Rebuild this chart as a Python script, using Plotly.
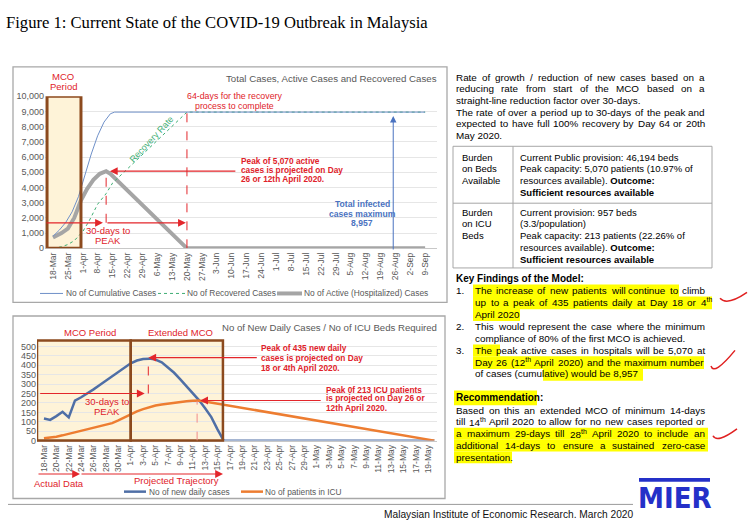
import re
import plotly.graph_objects as go

W, H = 749, 530
def px(x): return x / W
def py(y): return 1 - y / H

# ---------------- DATA: top chart ----------------
cum_dates = ["2020-03-18", "2020-03-21", "2020-03-24", "2020-03-27", "2020-03-30", "2020-04-02",
             "2020-04-05", "2020-04-08", "2020-04-11", "2020-04-14", "2020-04-16", "2020-09-09"]
cum_vals = [790, 1200, 1700, 2400, 3400, 4800, 6200, 7400, 8300, 8850, 8957, 8957]

rec_dates = ["2020-03-18", "2020-03-22", "2020-03-25", "2020-03-28", "2020-04-01", "2020-04-04",
             "2020-04-08", "2020-04-12", "2020-04-15", "2020-05-20", "2020-09-09"]
rec_vals = [0, 100, 250, 500, 1100, 1800, 2900, 3600, 4290, 8957, 8957]

act_dates = ["2020-03-18", "2020-03-22", "2020-03-25", "2020-03-28", "2020-03-31", "2020-04-03",
             "2020-04-06", "2020-04-09", "2020-04-12", "2020-04-14", "2020-05-20", "2020-09-09"]
act_vals = [710, 1000, 1300, 2000, 3100, 3900, 4500, 4900, 5070, 4900, 0, 0]

top_tick_dates = ["2020-03-18", "2020-03-25", "2020-04-01", "2020-04-08", "2020-04-15", "2020-04-22",
                  "2020-04-29", "2020-05-06", "2020-05-13", "2020-05-20", "2020-05-27", "2020-06-03",
                  "2020-06-10", "2020-06-17", "2020-06-24", "2020-07-01", "2020-07-08", "2020-07-15",
                  "2020-07-22", "2020-07-29", "2020-08-05", "2020-08-12", "2020-08-19", "2020-08-26",
                  "2020-09-02", "2020-09-09"]
top_tick_text = ["18-Mar", "25-Mar", "1-Apr", "8-Apr", "15-Apr", "22-Apr", "29-Apr", "6-May", "13-May",
                 "20-May", "27-May", "3-Jun", "10-Jun", "17-Jun", "24-Jun", "1-Jul", "8-Jul", "15-Jul",
                 "22-Jul", "29-Jul", "5-Aug", "12-Aug", "19-Aug", "26-Aug", "2-Sep", "9-Sep"]

# ---------------- DATA: bottom chart ----------------
new_dates = ["2020-03-18", "2020-03-19", "2020-03-20", "2020-03-21", "2020-03-22", "2020-03-23",
             "2020-03-24", "2020-03-25", "2020-03-26", "2020-03-27", "2020-03-28", "2020-03-29",
             "2020-03-30", "2020-03-31", "2020-04-01", "2020-04-02", "2020-04-03", "2020-04-04",
             "2020-04-05", "2020-04-06", "2020-04-07", "2020-04-08", "2020-04-09", "2020-04-10",
             "2020-04-11", "2020-04-12", "2020-04-13", "2020-04-14", "2020-04-15", "2020-04-16",
             "2020-05-20"]
new_vals = [117, 110, 130, 153, 123, 212, 230, 250, 272, 295, 318, 343, 368, 390, 410, 425, 433, 435,
            430, 415, 390, 360, 325, 290, 255, 215, 172, 125, 60, 0, 0]

icu_dates = ["2020-03-18", "2020-03-19", "2020-03-20", "2020-03-21", "2020-03-22", "2020-03-23",
             "2020-03-24", "2020-03-25", "2020-03-26", "2020-03-27", "2020-03-28", "2020-03-29",
             "2020-03-30", "2020-03-31", "2020-04-01", "2020-04-02", "2020-04-03", "2020-04-04",
             "2020-04-05", "2020-04-06", "2020-04-07", "2020-04-08", "2020-04-09", "2020-04-10",
             "2020-04-11", "2020-04-12", "2020-05-20"]
icu_vals = [12, 15, 21, 28, 36, 45, 53, 60, 67, 74, 82, 93, 107, 123, 140, 155, 167, 178, 186, 192,
            197, 202, 206, 209, 211, 213, 0]

bot_tick_dates = ["2020-03-18", "2020-03-20", "2020-03-22", "2020-03-24", "2020-03-26", "2020-03-28",
                  "2020-03-30", "2020-04-01", "2020-04-03", "2020-04-05", "2020-04-07", "2020-04-09",
                  "2020-04-11", "2020-04-13", "2020-04-15", "2020-04-17", "2020-04-19", "2020-04-21",
                  "2020-04-23", "2020-04-25", "2020-04-27", "2020-04-29", "2020-05-01", "2020-05-03",
                  "2020-05-05", "2020-05-07", "2020-05-09", "2020-05-11", "2020-05-13", "2020-05-15",
                  "2020-05-17", "2020-05-19"]
bot_tick_text = ["18-Mar", "20-Mar", "22-Mar", "24-Mar", "26-Mar", "28-Mar", "30-Mar", "1-Apr", "3-Apr",
                 "5-Apr", "7-Apr", "9-Apr", "11-Apr", "13-Apr", "15-Apr", "17-Apr", "19-Apr", "21-Apr",
                 "23-Apr", "25-Apr", "27-Apr", "29-Apr", "1-May", "3-May", "5-May", "7-May", "9-May",
                 "11-May", "13-May", "15-May", "17-May", "19-May"]

# ---------------- styles ----------------
RED = "#E3262B"
RED_T = "#E0222A"
BROWN = "#8C4A1E"
CREAM = "#FEF3D8"
GRAY_T = "#595959"
BLUE_T = "#4A72C0"
C_CUM, C_REC, C_ACT = "#6F90C8", "#3FAE74", "#A5A5A5"
C_NEW, C_ICU = "#4F6FA6", "#ED7D31"
FONT = "Liberation Sans, Arial, sans-serif"

fig = go.Figure()

# top traces
fig.add_trace(go.Scatter(x=act_dates, y=act_vals, mode="lines", name="No of Active (Hospitalized) Cases",
                         line=dict(color=C_ACT, width=4), xaxis="x", yaxis="y", showlegend=False))
fig.add_trace(go.Scatter(x=rec_dates, y=rec_vals, mode="lines", name="No of Recovered Cases",
                         line=dict(color=C_REC, width=1, dash="dot"), xaxis="x", yaxis="y", showlegend=False))
fig.add_trace(go.Scatter(x=cum_dates, y=cum_vals, mode="lines", name="No of Cumulative Cases",
                         line=dict(color=C_CUM, width=1), xaxis="x", yaxis="y", showlegend=False))
# bottom traces
fig.add_trace(go.Scatter(x=new_dates, y=new_vals, mode="lines", name="No of new daily cases",
                         line=dict(color=C_NEW, width=2.5), xaxis="x2", yaxis="y2", showlegend=False))
fig.add_trace(go.Scatter(x=icu_dates, y=icu_vals, mode="lines", name="No of patients in ICU",
                         line=dict(color=C_ICU, width=2.5), xaxis="x2", yaxis="y2", showlegend=False))

axis_common = dict(showgrid=False, showline=True, linecolor="#C8C8C8", zeroline=False, ticks="",
                   tickangle=-90, tickfont=dict(size=8.5, color=GRAY_T))
fig.update_layout(
    width=W, height=H, margin=dict(l=0, r=0, t=0, b=0),
    paper_bgcolor="white", plot_bgcolor="white", showlegend=False,
    font=dict(family=FONT, size=10, color="#000000"),
    xaxis=dict(domain=[px(45), px(437)], anchor="y", type="date",
               range=["2020-03-14 06:00", "2020-09-14 14:00"],
               tickmode="array", tickvals=top_tick_dates, ticktext=top_tick_text, **axis_common),
    yaxis=dict(domain=[py(248), py(93)], anchor="x", range=[0, 10000], dtick=1000, tickformat=",",
               showgrid=True, gridcolor="#E6E6E6", zeroline=False, showline=False,
               tickfont=dict(size=9, color=GRAY_T)),
    xaxis2=dict(domain=[px(37), px(437)], anchor="y2", type="date",
                range=["2020-03-16 21:00", "2020-05-20 10:00"],
                tickmode="array", tickvals=bot_tick_dates, ticktext=bot_tick_text, **axis_common),
    yaxis2=dict(domain=[py(444), py(342)], anchor="x2", range=[0, 531], dtick=50,
                showgrid=True, gridcolor="#E6E6E6", zeroline=False, showline=False,
                tickfont=dict(size=9, color=GRAY_T)),
)

shapes = []
def prect(x0, y0, x1, y1, line="#A6A6A6", width=1.2, fill="rgba(0,0,0,0)", layer="above"):
    shapes.append(dict(type="rect", xref="paper", yref="paper", x0=px(x0), x1=px(x1), y0=py(y1), y1=py(y0),
                       line=dict(color=line, width=width), fillcolor=fill, layer=layer))
def pline(x0, y0, x1, y1, color="#A6A6A6", width=1, dash="solid"):
    shapes.append(dict(type="line", xref="paper", yref="paper", x0=px(x0), x1=px(x1), y0=py(y0), y1=py(y1),
                       line=dict(color=color, width=width, dash=dash)))
def hl(x0, y0, x1, y1):
    shapes.append(dict(type="rect", xref="paper", yref="paper", x0=px(x0), x1=px(x1), y0=py(y1), y1=py(y0),
                       line=dict(width=0), fillcolor="#FFFF00", layer="below"))

# chart frames
prect(13, 63, 447, 303, line="#A8A8A8", width=1.3)
prect(13, 317, 445, 503, line="#A8A8A8", width=1.3)
pline(8, 509, 633, 509, color="#9A9A9A", width=1)

# MCO boxes
shapes.append(dict(type="rect", xref="x", yref="y", x0="2020-03-15 05:00", x1="2020-03-31 04:00", y0=0, y1=10000,
                   fillcolor=CREAM, line=dict(width=0), layer="between"))
shapes.append(dict(type="rect", xref="x", yref="y", x0="2020-03-15 05:00", x1="2020-03-31 04:00", y0=0, y1=10000,
                   fillcolor="rgba(0,0,0,0)", line=dict(color=BROWN, width=3), layer="above"))
for a, b in [("2020-03-16 21:00", "2020-04-01 00:00"), ("2020-04-01 00:00", "2020-04-15 21:00")]:
    shapes.append(dict(type="rect", xref="x2", yref="y2 domain", x0=a, x1=b, y0=0, y1=1,
                       fillcolor=CREAM, line=dict(width=0), layer="below"))
    shapes.append(dict(type="rect", xref="x2", yref="y2 domain", x0=a, x1=b, y0=0, y1=1,
                       fillcolor="rgba(0,0,0,0)", line=dict(color=BROWN, width=2.5), layer="above"))

# dashed guide lines
shapes.append(dict(type="line", xref="x", yref="y", x0="2020-04-12", x1="2020-04-12", y0=1680, y1=4950,
                   line=dict(color=RED, width=1, dash="dash")))
shapes.append(dict(type="line", xref="x", yref="y", x0="2020-05-20", x1="2020-05-20", y0=0, y1=8957,
                   line=dict(color=RED, width=1, dash="dash")))
shapes.append(dict(type="line", xref="x2", yref="y2", x0="2020-04-03 20:00", x1="2020-04-03 20:00", y0=250, y1=432,
                   line=dict(color=RED, width=1, dash="dash")))
shapes.append(dict(type="line", xref="x2", yref="y2", x0="2020-04-11 17:00", x1="2020-04-11 17:00", y0=0, y1=210,
                   line=dict(color="#F08A8A", width=1, dash="dash")))

# manual legends (line samples)
pline(40, 294, 63, 294, color=C_CUM, width=1)
pline(158, 294, 185, 294, color=C_REC, width=1, dash="dot")
pline(277, 294, 302, 294, color=C_ACT, width=4)
pline(124, 496, 146, 496, color=C_NEW, width=2.5)
pline(241, 496, 263, 496, color=C_ICU, width=2.5)

# table in right panel
prect(453, 144, 712, 268, line="#A6A6A6", width=1)
pline(513, 144, 513, 268)
pline(453, 202, 712, 202)

# highlights
hl(473, 285, 679, 298)
hl(473, 297, 712, 310)
hl(473, 309, 520, 322)
hl(473, 346, 500, 358)
hl(473, 358, 704, 371)
hl(543, 370, 643, 383)
hl(454, 393, 537, 408)
hl(454, 431, 708, 443)
hl(454, 443, 708, 455)
hl(454, 455, 512, 467)

# hand-drawn check marks
def path(pts):
    (x0, y0), (cx, cy), (x1, y1) = pts
    return "M {} {} Q {} {} {} {}".format(px(x0), py(y0), px(cx), py(cy), px(x1), py(y1))
for pts in [[(720, 299), (727, 307), (747, 293)], [(711, 368), (714, 378), (735, 352)],
            [(713, 439), (717, 447), (737, 432)]]:
    shapes.append(dict(type="path", xref="paper", yref="paper", path=path(pts),
                       line=dict(color="#E02020", width=1.5)))

# MIER logo bar
prect(639, 482, 710, 486, line="#2430C8", width=0, fill="#2430C8")

fig.update_layout(shapes=shapes)

# ---------------- annotations ----------------
def T(x, y, s, size=9.5, color="#000000", xanchor="left", bold=False, angle=0, family=None):
    if bold:
        s = "<b>" + s + "</b>"
    f = dict(size=size, color=color)
    if family:
        f["family"] = family
    fig.add_annotation(x=px(x), y=py(y), xref="paper", yref="paper", text=s, showarrow=False,
                       xanchor=xanchor, yanchor="middle", font=f, textangle=angle, borderpad=0,
                       borderwidth=0)

def arrow(x, y, ax, ay, xref, yref, color=RED, width=1.2):
    fig.add_annotation(x=x, y=y, xref=xref, yref=yref, ax=ax, ay=ay, axref="pixel", ayref="pixel", text="",
                       showarrow=True, arrowhead=2, arrowsize=1.3, arrowwidth=width, arrowcolor=color,
                       standoff=0)

# Arial / Liberation Sans advance widths (1/1000 em) for justified text layout
AW = {' ': 278, '!': 278, '%': 889, '(': 333, ')': 333, ',': 278, '-': 333, '.': 278, '/': 278, ':': 278,
      'A': 667, 'B': 667, 'C': 722, 'D': 722, 'E': 667, 'F': 611, 'G': 778, 'H': 722, 'I': 278, 'J': 500,
      'K': 667, 'L': 556, 'M': 833, 'N': 722, 'O': 778, 'P': 667, 'Q': 778, 'R': 722, 'S': 667, 'T': 611,
      'U': 722, 'V': 667, 'W': 944, 'X': 667, 'Y': 667, 'Z': 611,
      'a': 556, 'b': 556, 'c': 500, 'd': 556, 'e': 556, 'f': 278, 'g': 556, 'h': 556, 'i': 222, 'j': 222,
      'k': 500, 'l': 222, 'm': 833, 'n': 556, 'o': 556, 'p': 556, 'q': 556, 'r': 333, 's': 500, 't': 278,
      'u': 556, 'v': 500, 'w': 722, 'x': 500, 'y': 500, 'z': 500}
def tw(s, size):
    tot = 0.0
    for part in re.split(r"(<sup>.*?</sup>)", s):
        if part.startswith("<sup>"):
            tot += 0.7 * sum(AW.get(c, 556) for c in part[5:-6])
        else:
            tot += sum(AW.get(c, 556) for c in part)
    return tot / 1000.0 * size

def J(x0, x1, y, s, size):
    words = s.split(" ")
    ws = [tw(w, size) for w in words]
    gap = (x1 - x0 - sum(ws)) / (len(words) - 1)
    x = x0
    for w, wd in zip(words, ws):
        T(x, y, w, size)
        x += wd + gap

# title
T(6, 18, "Figure 1: Current State of the COVID-19 Outbreak in Malaysia", size=16.6,
  family="Liberation Serif, Times New Roman, serif")

# top chart texts
T(63, 73, "MCO", 9.5, RED_T, "center")
T(63, 83, "Period", 9.5, RED_T, "center")
T(437, 75, "Total Cases, Active Cases and Recovered Cases", 9.7, GRAY_T, "right")
T(234, 93, "64-days for the recovery", 8.8, RED_T, "center")
T(234, 103, "process to complete", 8.8, RED_T, "center")
T(152, 137, "Recovery Rate", 9, C_REC, "center", angle=-47)
T(241, 159, "Peak of 5,070 active", 8.3, RED_T, bold=True)
T(241, 168, "cases is projected on Day", 8.3, RED_T, bold=True)
T(241, 177, "26 or 12th April 2020.", 8.3, RED_T, bold=True)
T(108, 230, "30-days to", 9.5, RED_T, "center")
T(108, 240, "PEAK", 9.5, RED_T, "center")
T(362, 203, "Total infected", 8.6, BLUE_T, "center", bold=True)
T(362, 213, "cases maximum", 8.6, BLUE_T, "center", bold=True)
T(362, 222, "8,957", 8.6, BLUE_T, "center", bold=True)
T(66, 294, "No of Cumulative Cases", 8.4, GRAY_T)
T(187, 294, "No of Recovered Cases", 8.4, GRAY_T)
T(304, 294, "No of Active (Hospitalized) Cases", 8.4, GRAY_T)

# top chart arrows
arrow("2020-04-10 12:00", 1680, -58, 0, "x", "y")
arrow("2020-05-19 12:00", 1680, -80, 0, "x", "y")
arrow("2020-04-13 18:00", 5070, 127, 0, "x", "y")
arrow("2020-08-25", 8700, 0, 135, "x", "y", color="#4A72C0", width=1)

# bottom chart texts
T(90, 334, "MCO Period", 9.5, RED_T, "center")
T(180, 334, "Extended MCO", 9.5, RED_T, "center")
T(437, 329, "No of New Daily Cases / No of ICU Beds Required", 9.6, GRAY_T, "right")
T(261, 350, "Peak of 435 new daily", 8.3, RED_T, bold=True)
T(261, 360, "cases is projected on Day", 8.3, RED_T, bold=True)
T(261, 370, "18 or 4th April 2020.", 8.3, RED_T, bold=True)
T(326, 392, "Peak 0f 213 ICU patients", 8.3, RED_T, bold=True)
T(326, 401, "is projected on Day 26 or", 8.3, RED_T, bold=True)
T(326, 411, "12th April 2020.", 8.3, RED_T, bold=True)
T(107, 404, "30-days to", 9.5, RED_T, "center")
T(107, 414, "PEAK", 9.5, RED_T, "center")
T(59, 488, "Actual Data", 9.5, RED_T, "center")
T(176, 485, "Projected Trajectory", 9.5, RED_T, "center")
T(149, 496, "No of new daily cases", 8.3, GRAY_T)
T(265, 496, "No of patients in ICU", 8.3, GRAY_T)

# bottom chart arrows
arrow("2020-04-03 06:00", 250, -106, 0, "x2", "y2")
arrow("2020-04-03 20:00", 440, 110, 0, "x2", "y2")
arrow("2020-04-12 05:00", 213, 122, 0, "x2", "y2")
arrow(px(80), py(478), -43, 0, "paper", "paper")
arrow(px(223), py(478), -143, 0, "paper", "paper")

# right panel text
FS = 9.9
J(456, 705, 73.5, "Rate of growth / reduction of new cases based on a", FS)
J(456, 705, 85.4, "reducing rate from start of the MCO based on a", FS)
T(456, 97.3, "straight-line reduction factor over 30-days.", FS)
J(456, 705, 109.2, "The rate of over a period up to 30-days of the peak and", FS)
J(456, 705, 121.1, "expected to have full 100% recovery by Day 64 or 20th", FS)
T(456, 133, "May 2020.", FS)

TS = 9.5
for i, s in enumerate(["Burden", "on Beds", "Available"]):
    T(462, 155 + i * 12, s, TS)
for i, s in enumerate(["Current Public provision: 46,194 beds",
                       "Peak capacity: 5,070 patients (10.97% of",
                       "resources available). <b>Outcome:</b>",
                       "<b>Sufficient resources available</b>"]):
    T(520, 155 + i * 12, s, TS)
for i, s in enumerate(["Burden", "on ICU", "Beds"]):
    T(462, 211 + i * 12, s, TS)
for i, s in enumerate(["Current provision: 957 beds",
                       "(3.3/population)",
                       "Peak capacity: 213 patients (22.26% of",
                       "resources available). <b>Outcome:</b>",
                       "<b>Sufficient resources available</b>"]):
    T(520, 211 + i * 12, s, TS)

T(456, 279, "Key Findings of the Model:", 10, bold=True)
T(456, 291, "1.", FS)
J(475, 705, 291, "The increase of new patients will continue to climb", FS)
J(475, 712, 303, "up to a peak of 435 patients daily at Day 18 or 4<sup>th</sup>", FS)
T(475, 315, "April 2020", FS)
T(456, 328, "2.", FS)
J(475, 705, 328, "This would represent the case where the minimum", FS)
T(475, 339.5, "compliance of 80% of the first MCO is achieved.", FS)
T(456, 352, "3.", FS)
J(475, 705, 352, "The peak active cases in hospitals will be 5,070 at", FS)
J(475, 704, 364, "Day 26 (12<sup>th</sup> April 2020) and the maximum number", FS)
T(475, 376, "of cases (cumulative) would be 8,957", FS)

T(456, 400, "Recommendation:", 10, bold=True)
J(456, 705, 413, "Based on this an extended MCO of minimum 14-days", FS)
J(456, 705, 425, "till 14<sup>th</sup> April 2020 to allow for no new cases reported or", FS)
J(456, 705, 437, "a maximum 29-days till 28<sup>th</sup> April 2020 to include an", FS)
J(456, 705, 449, "additional 14-days to ensure a sustained zero-case", FS)
T(456, 461, "presentation.", FS)

T(633, 519, "Malaysian Institute of Economic Research. March 2020", 10.2, "#111111", "right")
T(675, 502, "<b>MIER</b>", 29, "#2430C8", "center", family="DejaVu Sans Condensed, DejaVu Sans, sans-serif")

fig.write_html("out.html", config={"displayModeBar": False},
               post_script="document.body.style.margin='0';document.body.style.overflow='hidden';")
